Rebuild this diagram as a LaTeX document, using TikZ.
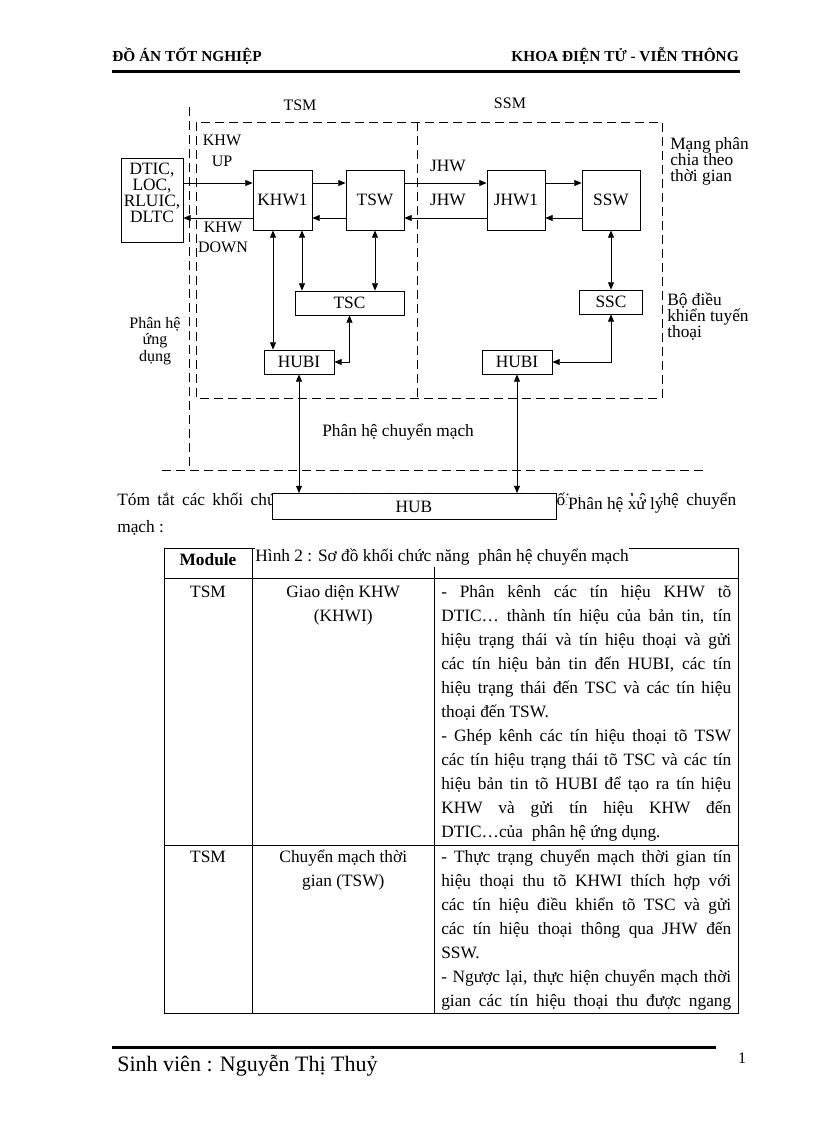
\documentclass[tikz,border=0pt]{standalone}
\usepackage{fontspec}
\setmainfont{Liberation Serif}
\usetikzlibrary{arrows.meta,calc}
\newcommand\jline[1]{\noindent\makebox[\hsize][s]{#1}\par}
\newcommand\lline[1]{\noindent #1\par}
\newcommand\cellbox[2]{\vtop{\hsize=#1\fontsize{13}{18}\selectfont\parindent=0pt #2}}
\begin{document}
\begin{tikzpicture}[x=0.75pt,y=-0.75pt,
  every node/.style={inner sep=0pt},
  >={Triangle[length=5.5pt,width=4.5pt]},
  blk/.style={draw, line width=0.6pt, fill=white, font=\fontsize{13}{14}\selectfont},
  dsh/.style={line width=0.7pt, dash pattern=on 7pt off 3.5pt},
  con/.style={line width=0.6pt},
  tl/.style={line width=0.6pt},
  dlbl/.style={font=\fontsize{13}{12}\selectfont},
  slbl/.style={font=\fontsize{12}{12}\selectfont},
  txt/.style={font=\fontsize{13}{18}\selectfont},
]
\useasboundingbox[fill=white] (0,0) rectangle (816,1123);

% header
\node[anchor=base west, font=\fontsize{11.5}{12}\selectfont\bfseries] (hl) at (112,62) {ĐỒ ÁN TỐT NGHIỆP};
\node[anchor=base east, font=\fontsize{11.5}{12}\selectfont\bfseries] (hr) at (739,62) {KHOA ĐIỆN TỬ - VIỄN THÔNG};
\draw[line width=1.6pt] (112,71.5) -- (740,71.5);

% dashed frames
\draw[dsh] (189,107) -- (189,470);
\draw[dsh] (162,470) -- (708,470);
\draw[dsh] (196,122) rectangle (662,398);
\draw[dsh] (417,122) -- (417,398);

% paragraph behind HUB
\node[txt, anchor=base west] (para) at (117,505) {\makebox[464.25pt][s]{Tóm tắt các khối chức năng chính và nhiệm vụ của các khối trong phân hệ chuyển}};
\node[txt, anchor=base west] (para2) at (117,532) {mạch :};

% blocks
\node[blk, minimum width=46.5pt, minimum height=63pt] (dtic) at (152,200) {};
\node[dlbl, align=center] (dtict) at (152,193) {DTIC,\\LOC,\\RLUIC,\\DLTC};
\node[blk, minimum width=44.25pt, minimum height=45pt] (khw) at (282.5,200) {KHW1};
\node[blk, minimum width=43.5pt, minimum height=45pt] (tsw) at (375,200) {TSW};
\node[blk, minimum width=43.5pt, minimum height=45pt] (jhw) at (516,200) {JHW1};
\node[blk, minimum width=43.5pt, minimum height=45pt] (ssw) at (611,200) {SSW};
\node[blk, minimum width=81.75pt, minimum height=18pt] (tsc) at (349.5,303) {TSC};
\node[blk, minimum width=52.5pt, minimum height=18pt] (hubia) at (299,362) {HUBI};
\node[blk, minimum width=47.25pt, minimum height=18pt] (ssc) at (611,302) {SSC};
\node[blk, minimum width=52.5pt, minimum height=18pt] (hubib) at (517,362) {HUBI};
\node[blk, minimum width=213pt, minimum height=19.5pt] (hub) at (414,506.5) {HUB};
\node[fill=white, inner sep=0.6pt, anchor=base west, font=\fontsize{13}{14}\selectfont] (xuly) at (567,509) {Phân hệ xử lý};

% horizontal links
\draw[con,->] ($(dtic.east)+(0,-17)$) -- ($(khw.west)+(0,-17)$);
\draw[con,->] ($(khw.west)+(0,18)$) -- ($(dtic.east)+(0,18)$);
\draw[con,->] ($(khw.east)+(0,-17)$) -- ($(tsw.west)+(0,-17)$);
\draw[con,->] ($(tsw.west)+(0,18)$) -- ($(khw.east)+(0,18)$);
\draw[con,->] ($(tsw.east)+(0,-17)$) -- ($(jhw.west)+(0,-17)$);
\draw[con,->] ($(jhw.west)+(0,18)$) -- ($(tsw.east)+(0,18)$);
\draw[con,->] ($(jhw.east)+(0,-17)$) -- ($(ssw.west)+(0,-17)$);
\draw[con,->] ($(ssw.west)+(0,18)$) -- ($(jhw.east)+(0,18)$);

% vertical links
\coordinate (ka) at ($(khw.south)+(-9.5,0)$);
\coordinate (kb) at ($(khw.south)+(19.5,0)$);
\draw[con,<->] (ka) -- (ka |- hubia.north);
\draw[con,<->] (kb) -- (kb |- tsc.north);
\draw[con,<->] (tsw.south) -- (tsw.south |- tsc.north);
\draw[con,<->] (tsc.south) |- (hubia.east);
\draw[con,<->] (ssw.south) -- (ssc.north);
\draw[con,<->] (ssc.south) |- (hubib.east);
\draw[con,<->] (hubia.south) -- (hubia.south |- hub.north);
\draw[con,<->] (hubib.south) -- (hubib.south |- hub.north);

% labels
\node[slbl] (tsml) at (300,105) {TSM};
\node[slbl] (ssml) at (510,103) {SSM};
\node[slbl, align=center, font=\fontsize{12}{16}\selectfont] (khwup) at (222,151) {KHW\\UP};
\node[slbl, align=center, font=\fontsize{12}{15}\selectfont] (khwdn) at (223,237) {KHW\\DOWN};
\node[dlbl] (jhwa) at (448,166) {JHW};
\node[dlbl] (jhwb) at (448,200) {JHW};
\node[dlbl, align=left, anchor=west] (mang) at (670,161) {Mạng phân\\chia theo\\thời gian};
\node[dlbl, align=left, anchor=west] (bodk) at (667,317) {Bộ điều\\khiển tuyến\\thoại};
\node[align=center, font=\fontsize{12}{12.5}\selectfont] (pha) at (155,341) {Phân hệ\\ứng\\dụng};
\node[dlbl, anchor=west] (phcm) at (322,432) {Phân hệ chuyển mạch};

% table
\draw[tl] (164,548) rectangle (738,1013);
\draw[tl] (164,578) -- (738,578);
\draw[tl] (164,845) -- (738,845);
\draw[tl] (252,548) -- (252,1013);
\draw[tl] (434,548) -- (434,1013);
\node[txt, anchor=west, fill=white, inner xsep=0.5pt, inner ysep=1.5pt] (cap) at (254.5,557) {Hình 2 : Sơ đồ khối chức năng \ phân hệ chuyển mạch};
\node[txt, font=\fontsize{13}{18}\selectfont\bfseries] (mod) at (208,560) {Module};

\node[txt, anchor=base] (r1a) at (208,597) {TSM};
\node[anchor=base west] (r1b) at (252,597) {\cellbox{136.5pt}{\centering Giao diện KHW\par (KHWI)\par}};
\node[anchor=base west] (r1c) at (441,597) {\cellbox{217.5pt}{%
\jline{- Phân kênh các tín hiệu KHW tõ}
\jline{DTIC…  thành tín hiệu của bản tin, tín}
\jline{hiệu trạng thái và tín hiệu thoại và gửi}
\jline{các tín hiệu bản tin đến HUBI, các tín}
\jline{hiệu trạng thái đến TSC và các tín hiệu}
\lline{thoại đến TSW.}
\jline{- Ghép kênh các tín hiệu thoại tõ TSW}
\jline{các tín hiệu trạng thái tõ TSC và các tín}
\jline{hiệu bản tin tõ HUBI để tạo ra tín hiệu}
\jline{KHW và gửi tín hiệu KHW đến}
\lline{DTIC…của \ phân hệ ứng dụng.}}};

\node[txt, anchor=base] (r2a) at (208,862) {TSM};
\node[anchor=base west] (r2b) at (252,862) {\cellbox{136.5pt}{\centering Chuyển mạch thời\par gian (TSW)\par}};
\node[anchor=base west] (r2c) at (441,862) {\cellbox{217.5pt}{%
\jline{- Thực trạng chuyển mạch thời gian tín}
\jline{hiệu thoại thu tõ KHWI thích hợp với}
\jline{các tín hiệu điều khiển tõ TSC và gửi}
\jline{các tín hiệu thoại thông qua JHW đến}
\lline{SSW.}
\jline{- Ngược lại, thực hiện chuyển mạch thời}
\jline{gian các tín hiệu thoại thu được ngang}}};

% footer
\draw[line width=1.6pt] (112,1047.5) -- (716,1047.5);
\node[anchor=base west, font=\fontsize{16.5}{18}\selectfont] (sv) at (117,1071) {Sinh viên : Nguyễn Thị Thuỷ};
\node[anchor=base, font=\fontsize{12}{13}\selectfont] (pg) at (742,1063) {1};
\end{tikzpicture}
\end{document}
